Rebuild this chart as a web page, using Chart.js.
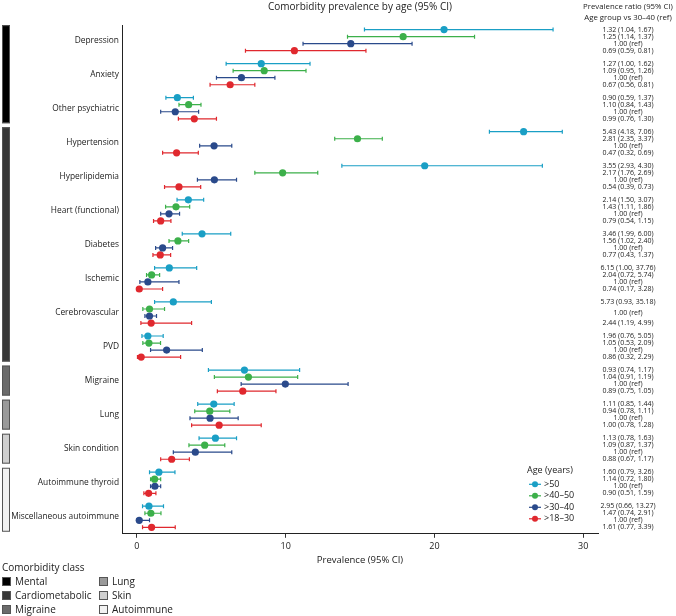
<!DOCTYPE html>
<html>
<head>
<meta charset="utf-8">
<script src="https://cdn.jsdelivr.net/npm/chart.js@4.4.1/dist/chart.umd.min.js"></script>
<style>
  body { margin: 0; background: #fff; font-family: "Open Sans", sans-serif; }
  #wrap { position: relative; width: 676px; height: 616px; }
  #classLegend { position: absolute; left: 2px; top: 560px; font-size: 10px; color: #222; }
  #classLegend .ttl { height: 14px; line-height: 14px; }
  #classLegend .grid { display: grid; grid-template-columns: 97px 110px; }
  #classLegend .item { height: 14px; line-height: 14px; display: flex; align-items: center; }
  #classLegend .sw { width: 9px; height: 9px; border: 1px solid #555; box-sizing: border-box; margin-right: 4px; }
</style>
</head>
<body>
<div id="wrap">
  <canvas id="prevalenceChart" width="676" height="616"></canvas>
  <div id="classLegend"></div>
</div>
<script>
const categories = ['Depression', 'Anxiety', 'Other psychiatric', 'Hypertension', 'Hyperlipidemia',
  'Heart (functional)', 'Diabetes', 'Ischemic', 'Cerebrovascular', 'PVD', 'Migraine', 'Lung',
  'Skin condition', 'Autoimmune thyroid', 'Miscellaneous autoimmune'];

const ageGroups = ['>50', '>40\u201350', '>30\u201340', '>18\u201330'];

// prevalence (%) with 95% CI, one array per age group, in category order
const over50Est = [20.65, 8.36, 2.72, 26.0, 19.35, 3.46, 4.38, 2.18, 2.45, 0.74, 7.23, 5.17, 5.28, 1.48, 0.81];
const over50Lo  = [15.3, 6.0, 1.95, 23.7, 13.78, 2.7, 3.05, 1.19, 1.19, 0.34, 4.81, 4.09, 4.18, 0.85, 0.38];
const over50Hi  = [27.98, 11.64, 3.8, 28.6, 27.26, 4.49, 6.31, 4.02, 5.01, 1.77, 10.94, 6.54, 6.7, 2.56, 1.79];

const over40Est = [17.9, 8.56, 3.48, 14.83, 9.8, 2.63, 2.76, 0.99, 0.85, 0.81, 7.5, 4.9, 4.56, 1.19, 0.94];
const over40Lo  = [14.16, 6.47, 2.83, 13.3, 7.93, 1.93, 2.16, 0.65, 0.4, 0.4, 5.21, 3.89, 3.5, 0.92, 0.54];
const over40Hi  = [22.7, 11.37, 4.31, 16.5, 12.16, 3.55, 3.48, 1.53, 1.86, 1.59, 10.81, 6.25, 5.91, 1.6, 1.62];

const over30Est = [14.38, 7.03, 2.58, 5.19, 5.21, 2.16, 1.73, 0.74, 0.85, 2.0, 9.98, 4.92, 3.93, 1.21, 0.16];
const over30Lo  = [11.17, 5.35, 1.6, 4.22, 4.07, 1.6, 1.26, 0.2, 0.54, 0.92, 7.01, 3.57, 2.45, 0.92, 0.0];
const over30Hi  = [18.5, 9.28, 4.15, 6.38, 6.7, 2.87, 2.4, 2.83, 1.32, 4.4, 14.2, 6.81, 6.38, 1.6, 0.85];

const over18Est = [10.59, 6.27, 3.86, 2.67, 2.83, 1.6, 1.57, 0.16, 0.96, 0.29, 7.12, 5.53, 2.34, 0.79, 0.99];
const over18Lo  = [7.3, 4.92, 2.79, 1.73, 1.86, 1.12, 1.08, 0.0, 0.27, 0.04, 5.41, 3.68, 1.6, 0.47, 0.38];
const over18Hi  = [15.4, 7.93, 5.35, 4.13, 4.29, 2.29, 2.27, 1.73, 3.68, 2.94, 9.35, 8.36, 3.53, 1.28, 2.58];

// prevalence ratio text column
const ratioLines = [
  ['1.32 (1.04, 1.67)', '1.25 (1.14, 1.37)', '1.00 (ref)', '0.69 (0.59, 0.81)'],
  ['1.27 (1.00, 1.62)', '1.09 (0.95, 1.26)', '1.00 (ref)', '0.67 (0.56, 0.81)'],
  ['0.90 (0.59, 1.37)', '1.10 (0.84, 1.43)', '1.00 (ref)', '0.99 (0.76, 1.30)'],
  ['5.43 (4.18, 7.06)', '2.81 (2.35, 3.37)', '1.00 (ref)', '0.47 (0.32, 0.69)'],
  ['3.55 (2.93, 4.30)', '2.17 (1.76, 2.69)', '1.00 (ref)', '0.54 (0.39, 0.73)'],
  ['2.14 (1.50, 3.07)', '1.43 (1.11, 1.86)', '1.00 (ref)', '0.79 (0.54, 1.15)'],
  ['3.46 (1.99, 6.00)', '1.56 (1.02, 2.40)', '1.00 (ref)', '0.77 (0.43, 1.37)'],
  ['6.15 (1.00, 37.76)', '2.04 (0.72, 5.74)', '1.00 (ref)', '0.74 (0.17, 3.28)'],
  ['5.73 (0.93, 35.18)', '1.00 (ref)', '2.44 (1.19, 4.99)'],
  ['1.96 (0.76, 5.05)', '1.05 (0.53, 2.09)', '1.00 (ref)', '0.86 (0.32, 2.29)'],
  ['0.93 (0.74, 1.17)', '1.04 (0.91, 1.19)', '1.00 (ref)', '0.89 (0.75, 1.05)'],
  ['1.11 (0.85, 1.44)', '0.94 (0.78, 1.11)', '1.00 (ref)', '1.00 (0.78, 1.28)'],
  ['1.13 (0.78, 1.63)', '1.09 (0.87, 1.37)', '1.00 (ref)', '0.88 (0.67, 1.17)'],
  ['1.60 (0.79, 3.26)', '1.14 (0.72, 1.80)', '1.00 (ref)', '0.90 (0.51, 1.59)'],
  ['2.95 (0.66, 13.27)', '1.47 (0.74, 2.91)', '1.00 (ref)', '1.61 (0.77, 3.39)']
];

const classNames = ['Mental', 'Cardiometabolic', 'Migraine', 'Lung', 'Skin', 'Autoimmune'];
const classFirst = [0, 3, 10, 11, 12, 13];
const classLast  = [2, 9, 10, 11, 12, 14];
const classColors = ['#000000', '#383838', '#6b6b6b', '#9a9a9a', '#cfcfcf', '#f2f2f2'];

const xTicks = [0, 10, 20, 30];
const groupColors = ['#1a9fc5', '#3cb04a', '#2a4a8b', '#e0282e'];
const rowOffsets = [-0.31, -0.103, 0.103, 0.31];
const groupEst = [over50Est, over40Est, over30Est, over18Est];
const groupLo = [over50Lo, over40Lo, over30Lo, over18Lo];
const groupHi = [over50Hi, over40Hi, over30Hi, over18Hi];

const FONT = '"Open Sans", sans-serif';

const datasets = ageGroups.map((g, gi) => ({
  label: g,
  data: categories.map((c, ci) => ({
    x: groupEst[gi][ci], y: ci + rowOffsets[gi], lo: groupLo[gi][ci], hi: groupHi[gi][ci]
  })),
  backgroundColor: groupColors[gi],
  borderColor: groupColors[gi],
  pointRadius: 3.6,
  pointHoverRadius: 4,
  borderWidth: 0
}));

// whiskers with end caps, drawn under the points
const errorBarPlugin = {
  id: 'errorBars',
  beforeDatasetsDraw(chart) {
    const { ctx, scales: { x, y } } = chart;
    chart.data.datasets.forEach(ds => {
      ctx.save();
      ctx.strokeStyle = ds.borderColor;
      ctx.lineWidth = 1.2;
      ds.data.forEach(p => {
        const py = y.getPixelForValue(p.y);
        const x0 = x.getPixelForValue(p.lo);
        const x1 = x.getPixelForValue(p.hi);
        ctx.beginPath();
        ctx.moveTo(x0, py); ctx.lineTo(x1, py);
        ctx.moveTo(x0, py - 2); ctx.lineTo(x0, py + 2);
        ctx.moveTo(x1, py - 2); ctx.lineTo(x1, py + 2);
        ctx.stroke();
      });
      ctx.restore();
    });
  }
};

// class bars on the far left, ratio column on the right, age legend inside
const decorPlugin = {
  id: 'decor',
  afterDraw(chart) {
    const { ctx, chartArea, scales: { y } } = chart;
    ctx.save();
    classNames.forEach((n, i) => {
      const top = y.getPixelForValue(classFirst[i] - 0.44);
      const bot = y.getPixelForValue(classLast[i] + 0.44);
      ctx.fillStyle = classColors[i];
      ctx.fillRect(2, top, 8, bot - top);
      ctx.strokeStyle = '#555';
      ctx.lineWidth = 1;
      ctx.strokeRect(2.5, top + 0.5, 7, bot - top - 1);
    });

    const colX = chartArea.right + 30;
    ctx.fillStyle = '#222';
    ctx.textAlign = 'center';
    ctx.textBaseline = 'middle';
    ctx.font = '7.8px ' + FONT;
    ctx.fillText('Prevalence ratio (95% CI)', colX, 7);
    ctx.fillText('Age group vs 30\u201340 (ref)', colX, 18);
    ctx.font = '7px ' + FONT;
    ratioLines.forEach((lines, ci) => {
      const n = lines.length;
      lines.forEach((t, k) => {
        const off = -0.31 + k * 0.62 / (n - 1);
        ctx.fillText(t, colX, y.getPixelForValue(ci + off));
      });
    });

    const lx = chartArea.right - 71;
    const by = chartArea.bottom;
    ctx.textAlign = 'left';
    ctx.font = '9px ' + FONT;
    ctx.fillText('Age (years)', lx, by - 63);
    ageGroups.forEach((g, gi) => {
      const ry = by - 49.5 + gi * 11.5;
      ctx.strokeStyle = groupColors[gi];
      ctx.lineWidth = 1.2;
      ctx.beginPath();
      ctx.moveTo(lx + 2, ry); ctx.lineTo(lx + 14, ry);
      ctx.stroke();
      ctx.fillStyle = groupColors[gi];
      ctx.beginPath();
      ctx.arc(lx + 8, ry, 3, 0, Math.PI * 2);
      ctx.fill();
      ctx.fillStyle = '#222';
      ctx.fillText(g, lx + 17, ry);
    });
    ctx.restore();
  }
};

new Chart(document.getElementById('prevalenceChart'), {
  type: 'scatter',
  data: { datasets },
  plugins: [errorBarPlugin, decorPlugin],
  options: {
    responsive: false,
    animation: false,
    devicePixelRatio: 1,
    layout: { padding: { left: 0, right: 78, top: 0, bottom: 50 } },
    plugins: {
      legend: { display: false },
      tooltip: { enabled: false },
      title: {
        display: true,
        text: 'Comorbidity prevalence by age (95% CI)',
        fullSize: false,
        color: '#222',
        font: { family: FONT, size: 10, weight: 'normal' },
        padding: { top: 1, bottom: 12.5 }
      }
    },
    scales: {
      x: {
        type: 'linear',
        min: -1,
        max: 31,
        afterBuildTicks: s => { s.ticks = xTicks.map(v => ({ value: v })); },
        ticks: { color: '#222', font: { family: FONT, size: 9 }, padding: 3 },
        grid: { display: true, drawOnChartArea: false, drawTicks: true, tickLength: 4, color: '#333' },
        border: { display: true, color: '#222', width: 1 },
        title: {
          display: true, text: 'Prevalence (95% CI)', color: '#222',
          font: { family: FONT, size: 9.5 }, padding: { top: 0, bottom: 0 }
        }
      },
      y: {
        type: 'linear',
        reverse: true,
        min: -0.43,
        max: 14.5,
        afterBuildTicks: s => { s.ticks = categories.map((c, i) => ({ value: i })); },
        afterFit: s => { s.width = 122; },
        ticks: {
          color: '#222', font: { family: FONT, size: 8.4 }, padding: 3,
          callback: v => categories[v]
        },
        grid: { display: false, drawTicks: false },
        border: { display: true, color: '#222', width: 1 }
      }
    }
  }
});

// comorbidity class legend under the chart
const legendEl = document.getElementById('classLegend');
let html = '<div class="ttl">Comorbidity class</div><div class="grid">';
const order = [0, 3, 1, 4, 2, 5];
order.forEach(i => {
  html += `<div class="item"><span class="sw" style="background:${classColors[i]}"></span>${classNames[i]}</div>`;
});
html += '</div>';
legendEl.innerHTML = html;
</script>
</body>
</html>
